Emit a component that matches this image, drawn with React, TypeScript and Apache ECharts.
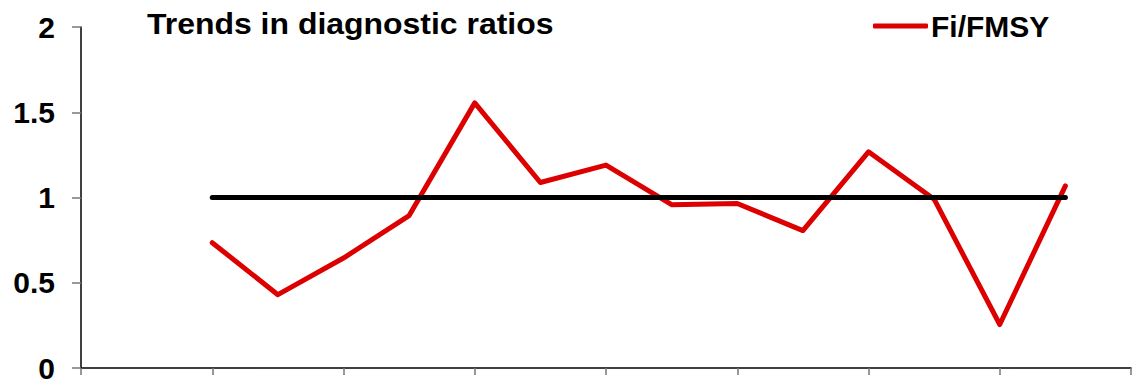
import React, { useEffect, useRef } from "react";
import * as echarts from "echarts";

const FONT = "'Liberation Sans', Arial, Helvetica, sans-serif";

const chartTitle = "Trends in diagnostic ratios";
const seriesName = "Fi/FMSY";
const xPositions = [2, 3, 4, 5, 6, 7, 8, 9, 10, 11, 12, 13, 14, 15];
const fiFmsy = [0.735, 0.43, 0.645, 0.894, 1.555, 1.088, 1.19, 0.958, 0.965, 0.806, 1.268, 0.99, 0.255, 1.068];
const refX = [2, 15];
const refY = [1, 1];
const yTicks = [0, 0.5, 1, 1.5, 2];
const xMin = 0;
const xMax = 16;
const xInterval = 2;

export default function App() {
  const ref = useRef<HTMLDivElement>(null);
  useEffect(() => {
    if (!ref.current) return;
    const chart = echarts.init(ref.current, null, { renderer: "svg" });
    chart.setOption({
      animation: false,
      backgroundColor: "#ffffff",
      graphic: [
        {
          type: "text",
          left: 147,
          top: 9,
          scaleX: 1.065,
          style: {
            text: chartTitle,
            fontFamily: FONT,
            fontSize: 30,
            fontWeight: "bold",
            fill: "#000",
          },
        },
      ],
      legend: {
        data: [{ name: seriesName, icon: "roundRect" }],
        left: 873,
        top: 11,
        padding: 0,
        itemWidth: 55,
        itemHeight: 5,
        textStyle: { fontFamily: FONT, fontSize: 30, fontWeight: "bold", color: "#000", padding: [0, 0, 0, -2] },
      },
      grid: { left: 81, right: 1, top: 27, bottom: 12, containLabel: false },
      xAxis: {
        type: "value",
        min: xMin,
        max: xMax,
        interval: xInterval,
        axisLine: { show: true, lineStyle: { color: "#000", width: 1.5 } },
        axisTick: { show: true, length: 7, lineStyle: { color: "#777", width: 1.5 } },
        axisLabel: { show: false },
        splitLine: { show: false },
      },
      yAxis: {
        type: "value",
        min: yTicks[0],
        max: yTicks[yTicks.length - 1],
        interval: yTicks[1] - yTicks[0],
        axisLine: { show: true, lineStyle: { color: "#000", width: 1.5 } },
        axisTick: { show: true, length: 9, lineStyle: { color: "#777", width: 1.5 } },
        axisLabel: {
          show: true,
          margin: 26,
          fontFamily: FONT,
          fontSize: 30,
          fontWeight: "bold",
          color: "#000",
        },
        splitLine: { show: false },
      },
      series: [
        {
          name: seriesName,
          type: "line",
          symbol: "none",
          data: xPositions.map((x, i) => [x, fiFmsy[i]]),
          lineStyle: { color: "#dd0000", width: 5, cap: "round", join: "round" },
          itemStyle: { color: "#dd0000" },
        },
        {
          name: "reference",
          type: "line",
          symbol: "none",
          data: refX.map((x, i) => [x, refY[i]]),
          lineStyle: { color: "#000", width: 5, cap: "round" },
          itemStyle: { color: "#000" },
        },
      ],
    });
    return () => chart.dispose();
  }, []);
  return (
    <div
      ref={ref}
      style={{ position: "absolute", left: 0, top: 0, width: 1132, height: 383 }}
    />
  );
}
